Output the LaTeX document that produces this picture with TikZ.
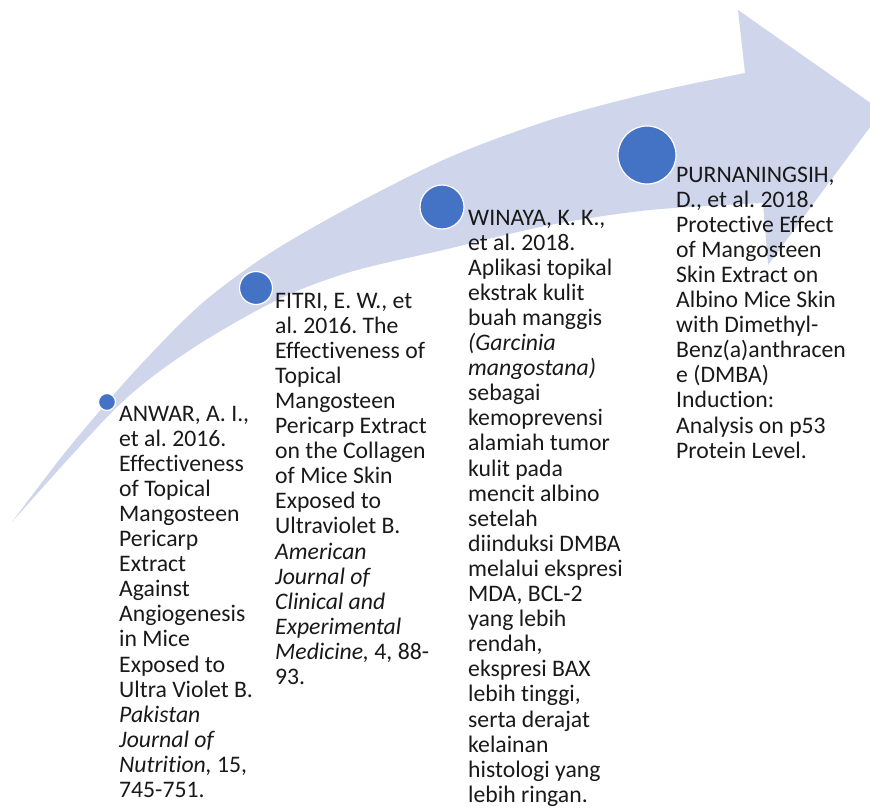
\documentclass[tikz,border=0pt]{standalone}
\usepackage{fontspec}
\setmainfont{Carlito}[Ligatures=NoCommon]
\frenchspacing
% keep t and i as separate glyphs
\XeTeXinterchartokenstate=1
\newXeTeXintercharclass\tletter
\newXeTeXintercharclass\iletter
\XeTeXcharclass`t=\tletter
\XeTeXcharclass`i=\iletter
\XeTeXinterchartoks\tletter\iletter={\kern0pt }
\definecolor{arrowfill}{HTML}{CFD5EA}
\definecolor{dotblue}{HTML}{4472C4}
\newcommand\refcol[1]{\parbox[t]{260pt}{\raggedright #1}}
\begin{document}
\begin{tikzpicture}[x=1pt,y=-1pt,
  dot/.style={circle, fill=dotblue, draw=white, line width=1.2pt, inner sep=0pt},
  ref/.style={anchor=base west, inner sep=0pt, text=black!90,
    font=\fontsize{23.7}{25.1}\selectfont}]
\useasboundingbox (0,0) rectangle (870,807);
% curved ascending arrow
\begin{scope}
\clip (0,0) rectangle (870,807);
\fill[arrowfill]
  plot[smooth] coordinates {(12,522) (67,450) (133,373) (200,305) (267,255)
    (350,207) (450,157) (550,120) (650,93) (745,73)}
  -- (738,10) -- (882,111) -- (768,265) -- (763,203)
  -- plot[smooth] coordinates {(763,203) (650,210) (550,225) (443,250)
    (350,272) (277,300) (190,350) (117,407) (12,522)}
  -- cycle;
\end{scope}
% milestones
\node[dot, minimum size=17pt] (d1) at (107,402) {};
\node[dot, minimum size=33pt] (d2) at (256,288) {};
\node[dot, minimum size=44pt] (d3) at (442,207) {};
\node[dot, minimum size=58pt] (d4) at (647,155) {};
% references
\node[ref] (r1) at (119,421) {\refcol{ANWAR, A. I.,\\ et al. 2016.\\ Effectiveness\\ of Topical\\ Mangosteen\\ Pericarp\\ Extract\\ Against\\ Angiogenesis\\ in Mice\\ Exposed to\\ Ultra Violet B.\\ \textit{Pakistan}\\ \textit{Journal of}\\ \textit{Nutrition,} 15,\\ 745-751.}};
\node[ref] (r2) at (275,308) {\refcol{FITRI, E. W., et\\ al. 2016. The\\ Effectiveness of\\ Topical\\ Mangosteen\\ Pericarp Extract\\ on the Collagen\\ of Mice Skin\\ Exposed to\\ Ultraviolet B.\\ \textit{American}\\ \textit{Journal of}\\ \textit{Clinical and}\\ \textit{Experimental}\\ \textit{Medicine,} 4, 88-\\ 93.}};
\node[ref] (r3) at (468,225) {\refcol{WINAYA, K. K.,\\ et al. 2018.\\ Aplikasi topikal\\ ekstrak kulit\\ buah manggis\\ \textit{(Garcinia}\\ \textit{mangostana)}\\ sebagai\\ kemoprevensi\\ alamiah tumor\\ kulit pada\\ mencit albino\\ setelah\\ diinduksi DMBA\\ melalui ekspresi\\ MDA, BCL-2\\ yang lebih\\ rendah,\\ ekspresi BAX\\ lebih tinggi,\\ serta derajat\\ kelainan\\ histologi yang\\ lebih ringan.}};
\node[ref] (r4) at (676,182) {\refcol{PURNANINGSIH,\\ D., et al. 2018.\\ Protective Effect\\ of Mangosteen\\ Skin Extract on\\ Albino Mice Skin\\ with Dimethyl-\\ Benz(a)anthracen\\ e (DMBA)\\ Induction:\\ Analysis on p53\\ Protein Level.}};
\end{tikzpicture}
\end{document}
